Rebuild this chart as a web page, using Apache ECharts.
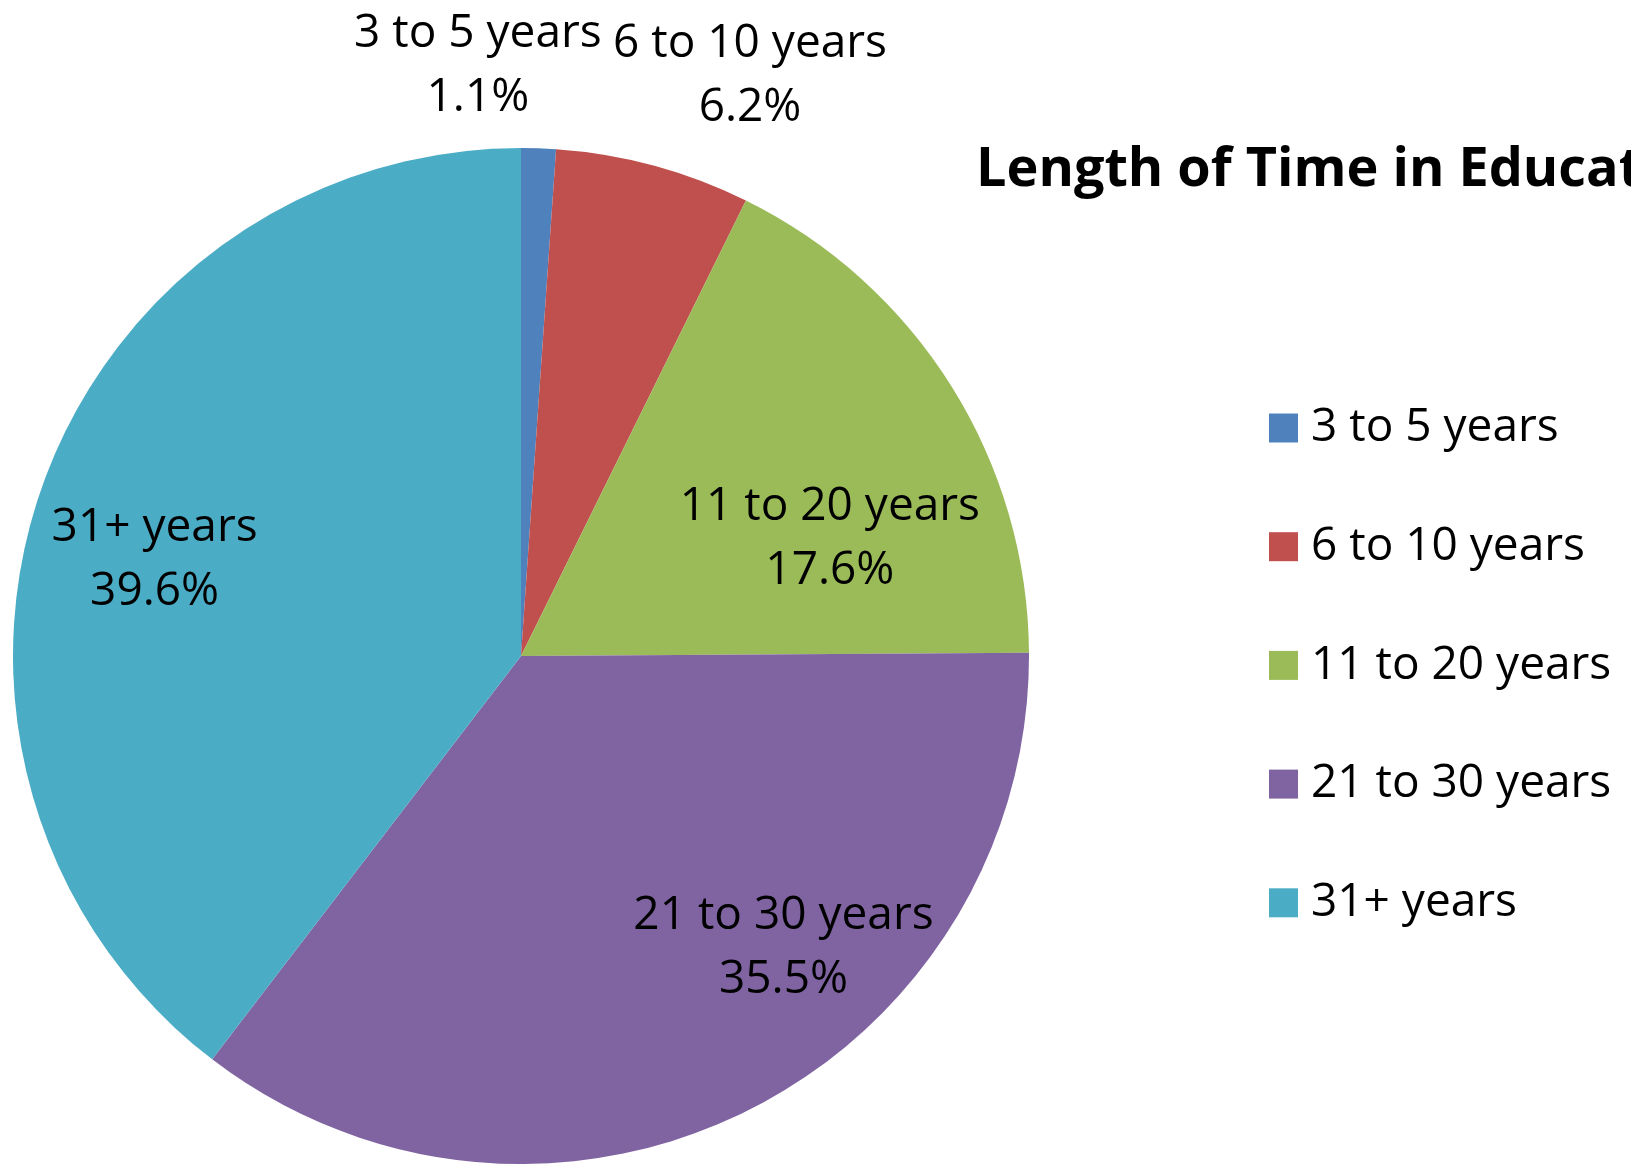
<!DOCTYPE html>
<html>
<head>
<meta charset="utf-8">
<script src="https://cdn.jsdelivr.net/npm/echarts@6/dist/echarts.min.js"></script>
<style>
html,body{margin:0;padding:0;background:#fff;}
#chart{width:1631px;height:1164px;}
</style>
</head>
<body>
<div id="chart"></div>
<script>
const categories = ['3 to 5 years', '6 to 10 years', '11 to 20 years', '21 to 30 years', '31+ years'];
const percentValues = [1.1, 6.2, 17.6, 35.5, 39.6];
const sliceColors = ['#4F81BD', '#C0504D', '#9BBB59', '#8064A2', '#4BACC6'];
const titleText = 'Length of Time in Education';

// label placement tweaks (style only)
const labelOffsets = [[-52, -333], [162, -332], [91, 19], [148, 62], [-123, -14]];

const FONT = '"Open Sans", sans-serif';
const chart = echarts.init(document.getElementById('chart'));

const data = categories.map((c, i) => ({
  name: c,
  value: percentValues[i],
  itemStyle: { color: sliceColors[i] },
  label: { offset: labelOffsets[i] }
}));

chart.setOption({
  animation: false,
  backgroundColor: '#ffffff',
  title: {
    text: titleText,
    left: 971,
    top: 139,
    textStyle: { fontFamily: FONT, fontWeight: 'bold', fontSize: 54, color: '#000' }
  },
  legend: {
    orient: 'vertical',
    left: 1264,
    top: 400,
    icon: 'rect',
    itemWidth: 29,
    itemHeight: 29,
    itemGap: 72.7,
    selectedMode: false,
    data: categories,
    textStyle: { fontFamily: FONT, fontSize: 46, color: '#000', lineHeight: 29, padding: [0, 0, 0, 8] }
  },
  series: [{
    type: 'pie',
    center: [521, 656],
    radius: [0, 508],
    startAngle: 90,
    clockwise: true,
    avoidLabelOverlap: false,
    itemStyle: { borderWidth: 0 },
    label: {
      show: true,
      position: 'inside',
      formatter: p => p.name + '\n' + p.value.toFixed(1) + '%',
      fontFamily: FONT,
      fontSize: 46,
      lineHeight: 64,
      color: '#000',
      align: 'center'
    },
    labelLine: { show: false },
    emphasis: { disabled: true },
    data: data
  }]
});
</script>
</body>
</html>
